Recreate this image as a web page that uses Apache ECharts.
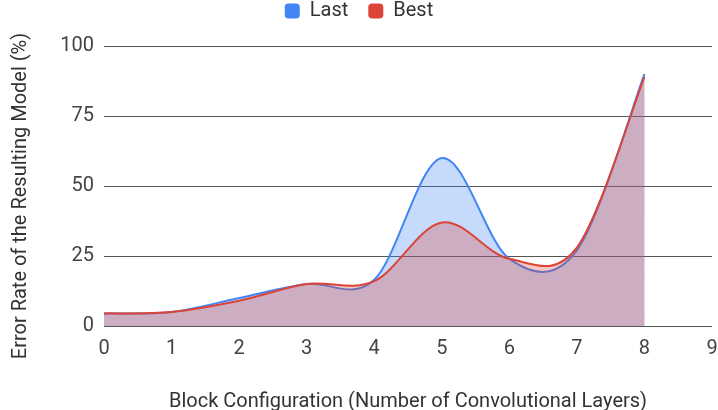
<!DOCTYPE html>
<html>
<head>
<meta charset="utf-8">
<script src="https://cdn.jsdelivr.net/npm/echarts@6/dist/echarts.min.js"></script>
<style>
  html, body { margin: 0; padding: 0; background: #fff; }
  #chart { width: 718px; height: 410px; }
</style>
</head>
<body>
<div id="chart"></div>
<script>
// number of conv layers in the block
const layers = [0, 1, 2, 3, 4, 5, 6, 7, 8];
// error rate (%)
const lastErr = [4.5, 5, 10, 15, 16.5, 60, 24, 27, 90];
const bestErr = [4.5, 5, 9, 15, 16, 37, 24, 28, 89];
const yTicks = [0, 25, 50, 75, 100];

const font = "Roboto";
const blue = "#4285f4";
const red = "#db4437";

// the reference uses a catmull-rom style curve that is allowed to overshoot,
// echarts' own smoothing clamps it, so the curve is drawn in a custom series
function curveSeries(name, vals, color, fill) {
  return {
    name: name,
    type: "custom",
    coordinateSystem: "cartesian2d",
    color: color,
    itemStyle: { color: color },
    data: layers.map((x, i) => [x, vals[i]]),
    renderItem: function (params, api) {
      if (params.dataIndex !== 0) return null;
      const pts = layers.map((x, i) => api.coord([x, vals[i]]));
      const n = pts.length;
      const k = 1 / 6;
      let d = "M" + pts[0][0] + " " + pts[0][1];
      for (let i = 0; i < n - 1; i++) {
        const p0 = pts[Math.max(i - 1, 0)];
        const p1 = pts[i];
        const p2 = pts[i + 1];
        const p3 = pts[Math.min(i + 2, n - 1)];
        const c1x = p1[0] + (p2[0] - p0[0]) * k;
        const c1y = p1[1] + (p2[1] - p0[1]) * k;
        const c2x = p2[0] - (p3[0] - p1[0]) * k;
        const c2y = p2[1] - (p3[1] - p1[1]) * k;
        d += " C" + c1x + " " + c1y + " " + c2x + " " + c2y + " " + p2[0] + " " + p2[1];
      }
      const base = api.coord([0, 0])[1];
      const area = d + " L" + pts[n - 1][0] + " " + base + " L" + pts[0][0] + " " + base + " Z";
      return {
        type: "group",
        children: [
          { type: "path", shape: { pathData: area }, style: { fill: fill, stroke: null } },
          { type: "path", shape: { pathData: d }, style: { fill: null, stroke: color, lineWidth: 2 } }
        ]
      };
    }
  };
}

const chart = echarts.init(document.getElementById("chart"));

chart.setOption({
  animation: false,
  textStyle: { fontFamily: font },
  legend: {
    top: -4,
    left: "center",
    itemWidth: 15,
    itemHeight: 15,
    itemGap: 20,
    icon: "roundRect",
    textStyle: { fontFamily: font, fontSize: 20, color: "#333", padding: [0, 0, 0, 5] },
    data: ["Last", "Best"]
  },
  grid: { left: 104, right: 6, top: 46, bottom: 84, containLabel: false, outerBoundsMode: "none" },
  xAxis: {
    type: "value",
    min: 0,
    max: 9,
    interval: 1,
    name: "Block Configuration (Number of Convolutional Layers)",
    nameLocation: "middle",
    nameGap: 66,
    nameTextStyle: { fontFamily: font, fontSize: 20, color: "#333" },
    axisLine: { show: false },
    axisTick: { show: false },
    splitLine: { show: false },
    axisLabel: { fontFamily: font, fontSize: 20, color: "#444", margin: 13 }
  },
  yAxis: {
    type: "value",
    min: yTicks[0],
    max: yTicks[yTicks.length - 1],
    interval: 25,
    name: "Error Rate of the Resulting Model (%)",
    nameLocation: "middle",
    nameGap: 73,
    nameTextStyle: { fontFamily: font, fontSize: 20, color: "#333", padding: [0, 20, 0, 0] },
    axisLine: { show: false },
    axisTick: { show: false },
    splitLine: { lineStyle: { color: "#555", width: 1 } },
    axisLabel: { fontFamily: font, fontSize: 20, color: "#444", margin: 10 }
  },
  series: [
    curveSeries("Last", lastErr, blue, "rgba(66,133,244,0.3)"),
    curveSeries("Best", bestErr, red, "rgba(219,68,55,0.3)")
  ]
});
</script>
</body>
</html>
